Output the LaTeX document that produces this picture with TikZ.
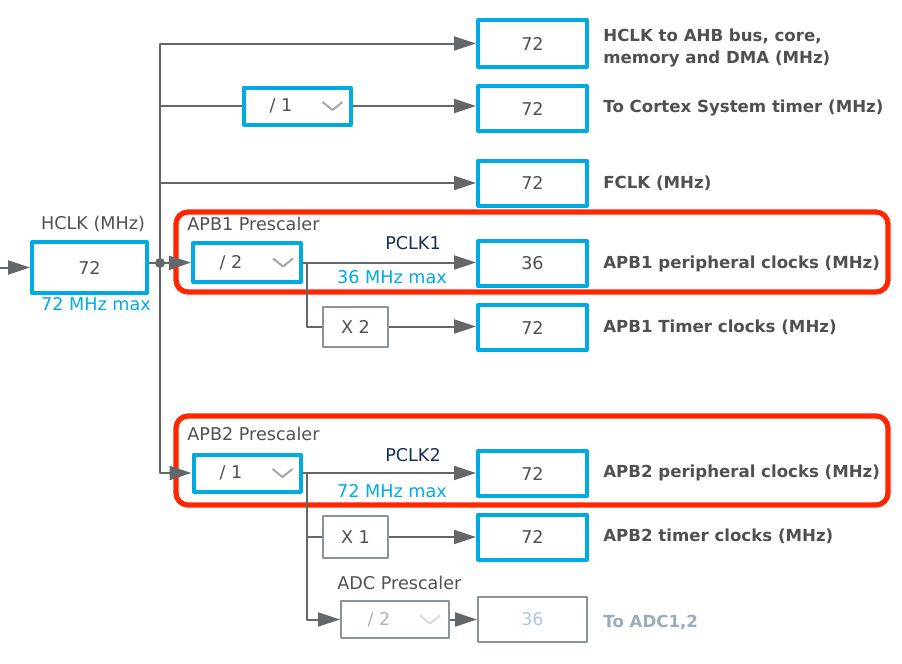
\documentclass[tikz,border=0pt]{standalone}
\usepackage{fontspec}
\setmainfont{DejaVu Sans}
\usetikzlibrary{arrows.meta,calc}

\definecolor{cubeblue}{RGB}{0,171,228}
\definecolor{cubered}{RGB}{255,38,0}
\definecolor{wiregray}{RGB}{100,103,105}
\definecolor{boxgray}{RGB}{140,148,155}
\definecolor{txtgray}{RGB}{80,80,80}
\definecolor{pclknavy}{RGB}{20,45,85}
\definecolor{offtxt}{RGB}{170,200,228}

% chevron of a drop-down list
\newcommand{\chev}[2][gray!70]{%
  \draw[#1, line width=1pt] ($(#2.east)+(-30,-4)$) -- ($(#2.east)+(-20,4)$) -- ($(#2.east)+(-10,-4)$);}

\begin{document}
\begin{tikzpicture}[x=0.5pt, y=-0.5pt, line join=round,
    font=\fontsize{8.8}{10}\selectfont,
    >={Triangle[length=11pt,width=7pt]},
    wire/.style={draw=wiregray, line width=1pt},
    arr/.style={wire, ->},
    valbox/.style={draw=cubeblue, line width=2pt, minimum width=54.5pt, minimum height=22.5pt, inner sep=0pt, text=txtgray},
    prebox/.style={draw=cubeblue, line width=2pt, minimum width=53.5pt, minimum height=18.5pt, inner sep=0pt},
    mulbox/.style={draw=boxgray, line width=1pt, minimum width=32.5pt, minimum height=20pt, inner sep=0pt, text=txtgray},
    offbox/.style={draw=boxgray, line width=1pt, inner sep=0pt},
    frame/.style={draw=cubered, line width=2.6pt, rounded corners=6pt},
    outtxt/.style={anchor=west, font=\fontsize{8.3}{11}\selectfont\bfseries, text=txtgray, align=left, inner sep=0pt},
    captxt/.style={text=txtgray, inner sep=0pt},
    maxtxt/.style={text=cubeblue, inner sep=0pt}]
  \useasboundingbox (0,0) rectangle (902,664);

  % peripheral frames
  \draw[frame] (176,212) rectangle (888,292);
  \draw[frame] (176,416) rectangle (888,505);

  % HCLK
  \node[valbox, minimum width=57.5pt, minimum height=25.5pt] (hclk) at (89.5,267.5) {72};
  \node[captxt] (hclkcap) at (93,224) {HCLK (MHz)};
  \node[maxtxt] (hclkmax) at (96,304) {72 MHz max};
  \coordinate (hclkin) at (0,267.5);
  \coordinate (bus) at (160,263);

  % outputs
  \node[valbox, minimum height=23.5pt] (ahb) at (532.5,43.5) {72};
  \node[valbox] (systick) at (532.5,108.5) {72};
  \node[valbox] (fclk) at (532.5,183) {72};
  \node[valbox] (apb1per) at (532.5,263.5) {36};
  \node[valbox] (apb1tim) at (532.5,327.5) {72};
  \node[valbox] (apb2per) at (532.5,473.5) {72};
  \node[valbox] (apb2tim) at (532.5,537) {72};
  \node[offbox, minimum width=54.5pt, minimum height=22.5pt, text=offtxt] (adcout) at (532.5,619.5) {36};

  % prescalers
  \node[prebox] (systpre) at (297,106) {};
  \node[captxt] at ($(systpre.center)+(-16,0)$) {/ 1};
  \chev{systpre}
  \node[prebox, minimum width=54pt, minimum height=19.5pt] (apb1pre) at (247,262.5) {};
  \node[captxt] at ($(apb1pre.center)+(-16,0)$) {/ 2};
  \chev{apb1pre}
  \node[prebox] (apb2pre) at (247,473) {};
  \node[captxt] at ($(apb2pre.center)+(-16,0)$) {/ 1};
  \chev{apb2pre}
  \node[offbox, minimum width=54pt, minimum height=18.5pt] (adcpre) at (395,619.5) {};
  \node[text=gray!60, inner sep=0pt] at ($(adcpre.center)+(-16,0)$) {/ 2};
  \chev[gray!30]{adcpre}
  \node[mulbox] (x2) at (355.5,326.5) {X 2};
  \node[mulbox, minimum height=21pt] (x1) at (355.5,537) {X 1};

  \node[captxt, anchor=west] (apb1cap) at (187,224) {APB1 Prescaler};
  \node[captxt, anchor=west] (apb2cap) at (187,434) {APB2 Prescaler};
  \node[captxt, anchor=west] (adccap) at (337,583) {ADC Prescaler};
  \node[text=pclknavy, inner sep=0pt] (pclk1) at (413,243) {PCLK1};
  \node[maxtxt] (pclk1max) at (392,277) {36 MHz max};
  \node[text=pclknavy, inner sep=0pt] (pclk2) at (413,455) {PCLK2};
  \node[maxtxt] (pclk2max) at (392,491) {72 MHz max};

  % wiring
  \draw[arr] (hclkin) -- (hclk.west);
  \draw[wire] (hclk.east |- bus) -- (bus);
  \fill[wiregray] (bus) circle (2.5pt);
  \draw[arr] (bus) |- (ahb.west);
  \draw[wire] (bus) |- (systpre.west);
  \draw[arr] (systpre.east) -- (systpre.east -| systick.west);
  \draw[arr] (bus) |- (fclk.west);
  \draw[arr] (bus) -- (apb1pre.west);
  \draw[arr] (bus) |- (apb2pre.west);

  \draw[arr] (apb1pre.east) -- (apb1pre.east -| apb1per.west);
  \coordinate (apb1tap) at (307,262.5);
  \draw[wire] (apb1tap) |- (x2.west);
  \draw[arr] (x2.east) -- (x2.east -| apb1tim.west);

  \draw[arr] (apb2pre.east) -- (apb2pre.east -| apb2per.west);
  \coordinate (apb2tap) at (307,473);
  \draw[wire] (apb2tap) |- (x1.west);
  \draw[arr] (apb2tap) |- (adcpre.west);
  \draw[arr] (x1.east) -- (x1.east -| apb2tim.west);
  \draw[arr] (adcpre.east) -- (adcpre.east -| adcout.west);

  % output texts
  \node[outtxt] (ahbtxt) at (603,48) {HCLK to AHB bus, core,\\memory and DMA (MHz)};
  \node[outtxt] (systxt) at (603,108) {To Cortex System timer (MHz)};
  \node[outtxt] (fclktxt) at (603,183) {FCLK (MHz)};
  \node[outtxt] (apb1ptxt) at (603,264) {APB1 peripheral clocks (MHz)};
  \node[outtxt] (apb1ttxt) at (603,327) {APB1 Timer clocks (MHz)};
  \node[outtxt] (apb2ptxt) at (603,473) {APB2 peripheral clocks (MHz)};
  \node[outtxt] (apb2ttxt) at (603,536) {APB2 timer clocks (MHz)};
  \node[outtxt, text=offtxt!60!gray] (adctxt) at (603,623) {To ADC1,2};
\end{tikzpicture}
\end{document}
